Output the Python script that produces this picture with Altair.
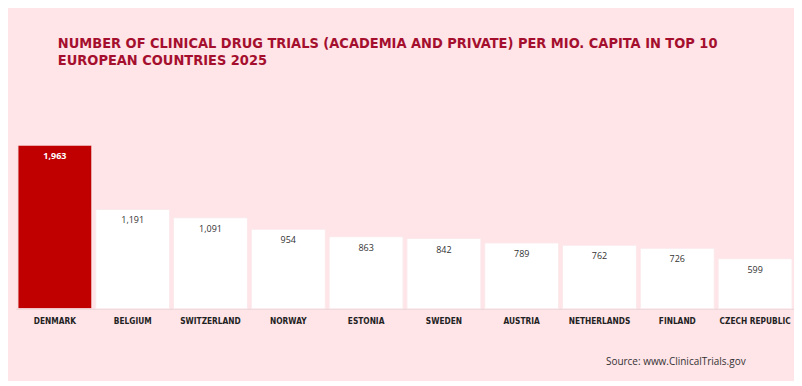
import altair as alt
import pandas as pd

countries = ["DENMARK", "BELGIUM", "SWITZERLAND", "NORWAY", "ESTONIA",
             "SWEDEN", "AUSTRIA", "NETHERLANDS", "FINLAND", "CZECH REPUBLIC"]
values = [1963, 1191, 1091, 954, 863, 842, 789, 762, 726, 599]
highlight = ["yes", "no", "no", "no", "no", "no", "no", "no", "no", "no"]
labels = [f"{v:,}" for v in values]

df = pd.DataFrame({"country": countries, "value": values,
                   "hl": highlight, "label": labels})

x = alt.X("country:N", sort=countries,
          scale=alt.Scale(paddingInner=0.05, paddingOuter=0.025),
          axis=alt.Axis(title="Source: www.ClinicalTrials.gov", labelAngle=0,
                        labelFont="DejaVu Sans Condensed", labelFontWeight="bold",
                        labelFontSize=8.3, labelColor="#222222", labelPadding=8,
                        ticks=False, domainColor="#e6d2d6", domainWidth=1,
                        titleFont="Open Sans", titleFontWeight="normal",
                        titleFontSize=10, titleColor="#333333",
                        titleAlign="right", titleX=731, titleY=48, titleAnchor="end"))
y = alt.Y("value:Q", scale=alt.Scale(domain=[0, 1963], nice=False), axis=None)

bars = alt.Chart(df).mark_bar(stroke="#fbe9ec", strokeWidth=1).encode(
    x=x, y=y,
    color=alt.Color("hl:N", scale=alt.Scale(domain=["yes", "no"],
                                            range=["#C00000", "#FFFFFF"]), legend=None),
)

text_hl = alt.Chart(df).transform_filter(alt.datum.hl == "yes").mark_text(
    baseline="top", dy=7, font="Open Sans", fontSize=9, fontWeight="bold", color="#FFFFFF"
).encode(x=x, y=y, text="label:N")

text_other = alt.Chart(df).transform_filter(alt.datum.hl == "no").mark_text(
    baseline="top", dy=7, font="Open Sans", fontSize=9, color="#333333"
).encode(x=x, y=y, text="label:N")

chart = alt.layer(bars, text_hl, text_other).properties(
    width=780, height=164,
    background="#FFE4E8",
    padding={"left": 8, "right": 0, "top": 28, "bottom": 14},
    title=alt.TitleParams(
        text=["NUMBER OF CLINICAL DRUG TRIALS (ACADEMIA AND PRIVATE) PER MIO. CAPITA IN TOP 10",
              "EUROPEAN COUNTRIES 2025"],
        anchor="start", dx=42, offset=76, font="DejaVu Sans Condensed",
        fontSize=14.5, fontWeight="bold", color="#A50F2E", lineHeight=17),
).configure_view(stroke=None)

chart.save("out.html", embed_options={"renderer": "svg", "actions": False})
